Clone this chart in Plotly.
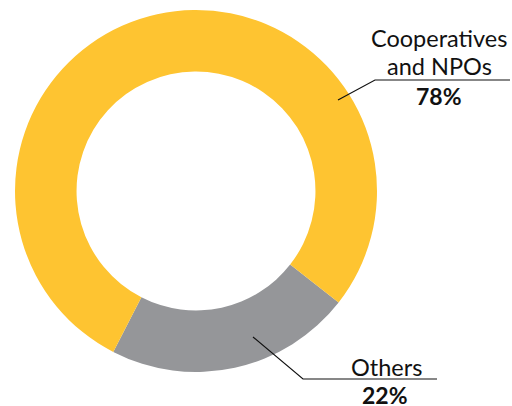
import plotly.graph_objects as go

labels = ["Others", "Cooperatives and NPOs"]
values = [22, 78]
colors = ["#959699", "#FEC431"]

W, H = 512, 406

def px(x):
    return x / W

def py(y):
    return 1 - y / H

fig = go.Figure(go.Pie(
    labels=labels, values=values, hole=0.66, sort=False,
    direction="clockwise", rotation=128,
    marker=dict(colors=colors, line=dict(width=0)),
    textinfo="none", hoverinfo="none", showlegend=False,
    domain=dict(x=[px(196 - 181), px(196 + 181)], y=[py(191 + 181), py(191 - 181)]),
))

FONT = "Lato"
ann = [
    ("Cooperatives", 439, 38, False, 23.5),
    ("and NPOs", 439, 66, False, 23.5),
    ("78%", 439, 96, True, 23),
    ("Others", 386, 367, False, 23.5),
    ("22%", 385, 395, True, 23),
]
for t, x, y, b, s in ann:
    fig.add_annotation(
        x=px(x), y=py(y), xref="paper", yref="paper", showarrow=False,
        text=f"<b>{t}</b>" if b else t, xanchor="center", yanchor="middle",
        font=dict(family=FONT, size=s, color="#111111"),
    )

lines = [
    [(338, 100), (375, 80), (510, 80)],
    [(253, 337), (303, 379), (437, 379)],
]
for pts in lines:
    path = "M " + " L ".join(f"{px(x)},{py(y)}" for x, y in pts)
    fig.add_shape(type="path", path=path, xref="paper", yref="paper",
                  line=dict(color="#111111", width=1.2))

fig.update_layout(
    width=W, height=H, margin=dict(l=0, r=0, t=0, b=0),
    paper_bgcolor="white", plot_bgcolor="white",
)
fig.write_html("out.html", config={"displayModeBar": False},
               post_script="document.body.style.margin='0px';document.body.style.overflow='hidden';")
